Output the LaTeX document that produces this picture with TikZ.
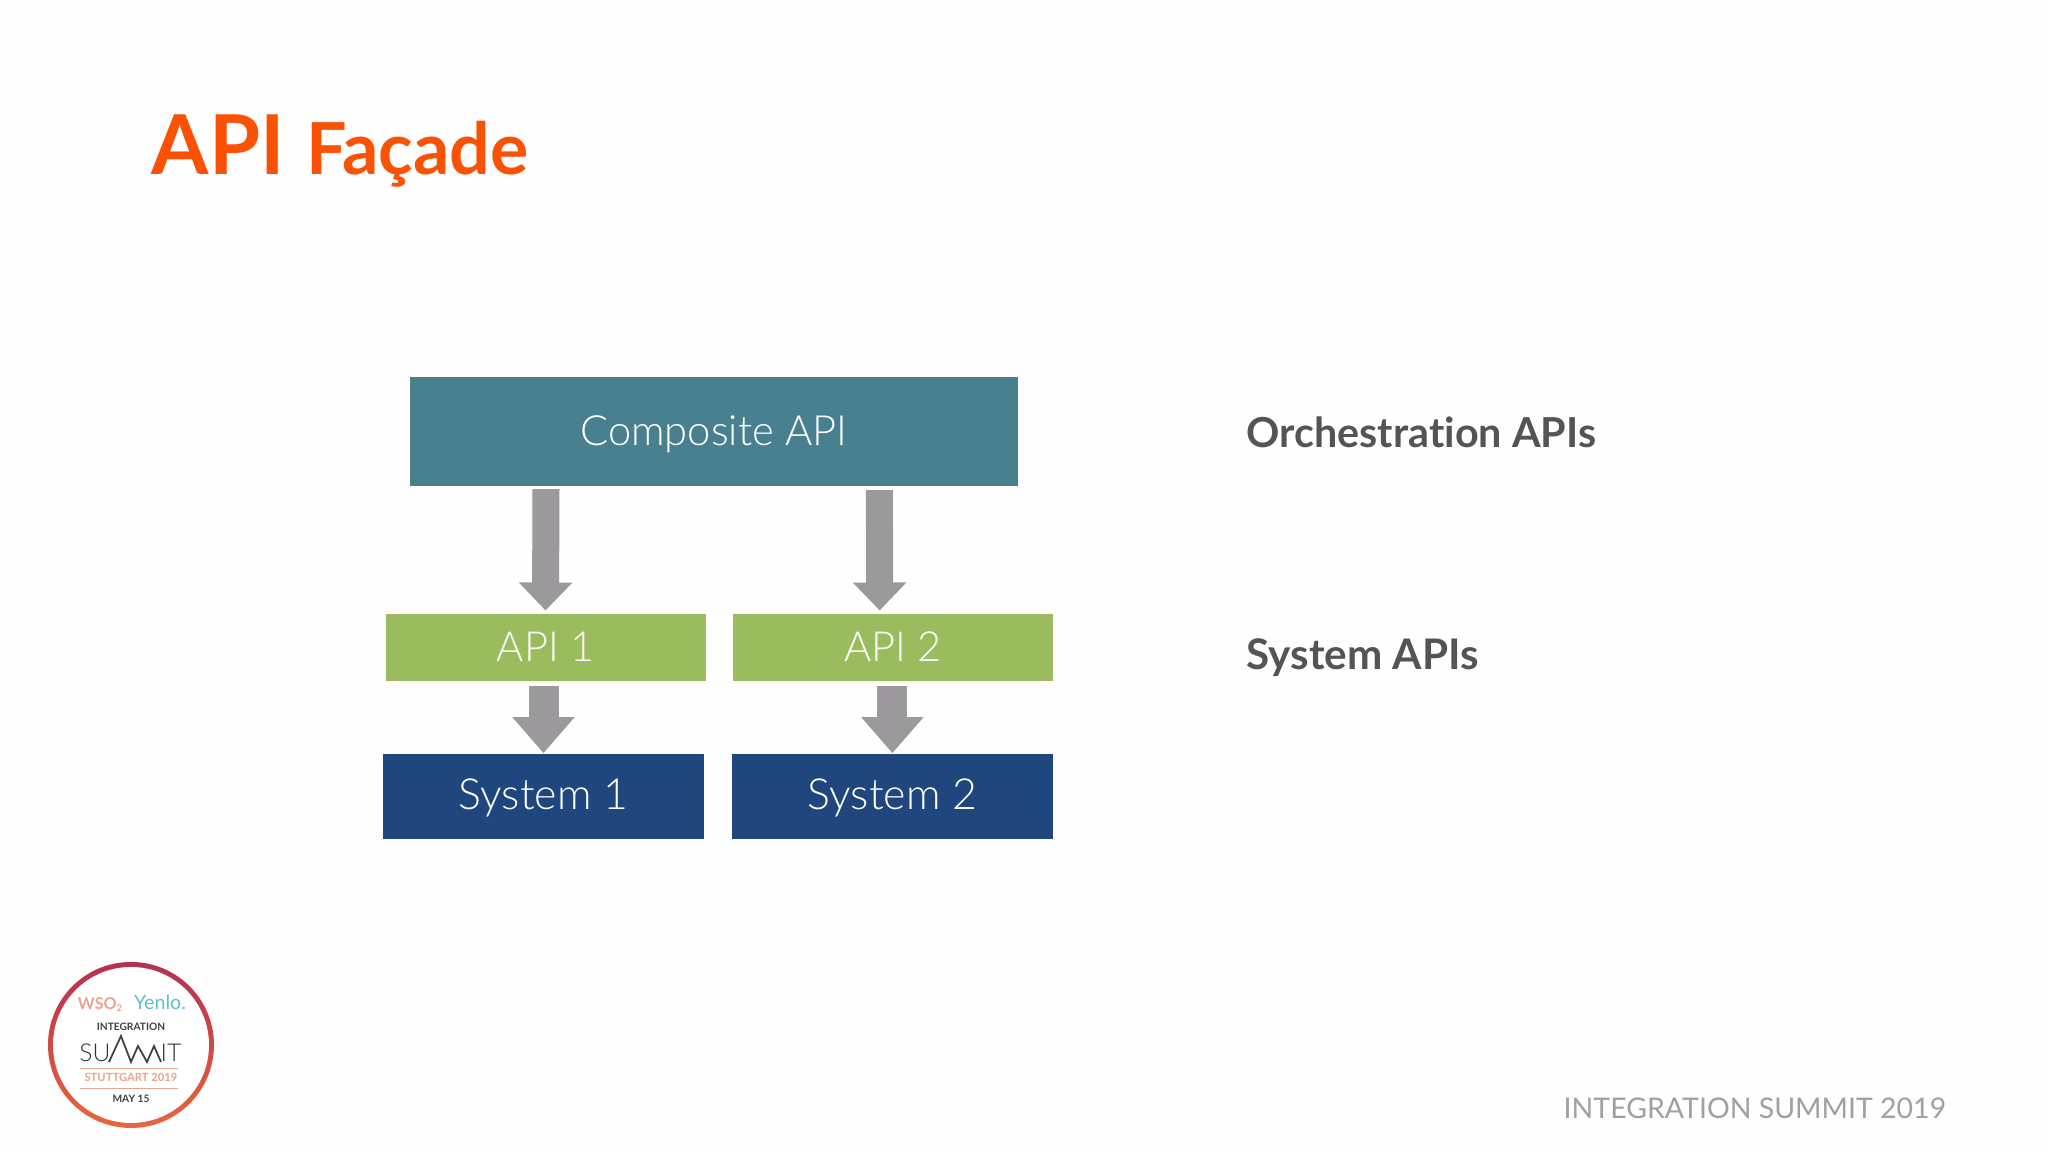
\documentclass[tikz,border=0pt]{standalone}
\usepackage{fontspec}
\setmainfont[Ligatures = NoCommon]{Lato}
\newfontfamily\lightfont{Lato Light}
\usetikzlibrary{arrows.meta}

\definecolor{TitleOrange}{HTML}{FA5205}
\definecolor{CompositeTeal}{HTML}{48808F}
\definecolor{ApiGreen}{HTML}{9BBC5C}
\definecolor{SystemBlue}{HTML}{1F477D}
\definecolor{FlowGray}{HTML}{9B999B}
\definecolor{SideGray}{HTML}{545454}
\definecolor{FootGray}{HTML}{A0A0A0}
\definecolor{BadgePeach}{HTML}{E9A48F}
\definecolor{BadgeCyan}{HTML}{62BCD0}
\definecolor{RingTop}{HTML}{B5304F}
\definecolor{RingBottom}{HTML}{E8663C}

\begin{document}
\begin{tikzpicture}[
      Box/.style = {rectangle, inner sep = 0pt, text = white, text height = 0.37cm, text depth = 0.10cm},
      Composite/.style = {Box, fill = CompositeTeal, minimum width = 6.08cm, minimum height = 1.09cm, font = \lightfont\fontsize{11.85}{14}\selectfont},
      Api/.style = {Box, fill = ApiGreen, minimum width = 3.20cm, minimum height = 0.67cm, font = \lightfont\fontsize{11.8}{14}\selectfont},
      System/.style = {Box, fill = SystemBlue, minimum width = 3.21cm, minimum height = 0.85cm, font = \lightfont\fontsize{12.2}{14}\selectfont},
      Flow/.style = {draw = FlowGray, line width = 0.27cm, -{Triangle[length = 0.28cm, width = 0.52cm]}},
      FlowLow/.style = {draw = FlowGray, line width = 0.30cm, -{Triangle[length = 0.36cm, width = 0.60cm]}},
      Side/.style = {anchor = base west, inner sep = 0pt, text = SideGray, font = \bfseries\fontsize{11.75}{14}\selectfont},
      Badge/.style = {inner sep = 0pt, anchor = base, font = \bfseries\fontsize{2.9}{4}\selectfont}
    ]
    \useasboundingbox (0,0) rectangle (20.48,11.52);
    \fill[white!99.5!black] (0,0) rectangle (20.48,11.52);

    % title
    \node at (1.51,9.77) [anchor = base west, inner sep = 0pt, text = TitleOrange, font = \bfseries\fontsize{23.5}{26}\selectfont](Api){API};
    \node at (3.06,9.77) [anchor = base west, inner sep = 0pt, text = TitleOrange, font = \bfseries\fontsize{20.4}{26}\selectfont](Facade){Façade};

    % boxes
    \node at (7.14,7.20) [Composite](CompositeApi){Composite API};
    \node at (5.455,5.043) [Api](Api1){API 1};
    \node at (8.93,5.043) [Api](Api2){API 2};
    \node at (5.435,3.556) [System](System1){System 1};
    \node at (8.924,3.556) [System](System2){System 2};

    \path [Flow] ([xshift = -1.68cm, yshift = -0.02cm]CompositeApi.south) -- ([yshift = 0.03cm]Api1.north);
    \path [Flow] ([xshift = 1.654cm, yshift = -0.03cm]CompositeApi.south) -- ([xshift = -0.133cm, yshift = 0.03cm]Api2.north);
    \path [FlowLow] ([yshift = -0.04cm]System1.north |- Api1.south) -- (System1.north);
    \path [FlowLow] ([yshift = -0.04cm]System2.north |- Api2.south) -- (System2.north);

    % right hand labels
    \node at (12.46,7.043) [Side](Orchestration){Orchestration APIs};
    \node at (12.46,4.823) [Side, font = \bfseries\fontsize{12}{14}\selectfont](SystemApis){System APIs};
    \node at (15.63,0.335) [anchor = base west, inner sep = 0pt, text = FootGray, font = \fontsize{8.1}{10}\selectfont](Footer){INTEGRATION SUMMIT 2019};

    % badge
    \shade[top color = RingTop, bottom color = RingBottom] (1.31,1.07) circle (0.83);
    \fill[white] (1.31,1.07) circle (0.78);
    \node at (1.00,1.42) [Badge, text = BadgePeach, font = \bfseries\fontsize{4.6}{6}\selectfont](Wso){WSO\raisebox{-0.5pt}{\fontsize{2.6}{3}\selectfont 2}};
    \node at (1.60,1.42) [Badge, text = BadgeCyan, font = \fontsize{5.6}{6}\selectfont](Yenlo){Yenlo.};
    \node at (1.31,1.21) [Badge, text = black!75](Integration){INTEGRATION};
    \node at (0.95,0.90) [Badge, text = black!80, font = \lightfont\fontsize{7}{8}\selectfont](Su){SU};
    \node at (1.71,0.90) [Badge, text = black!80, font = \lightfont\fontsize{7}{8}\selectfont](It){IT};
    \draw[black!75, line width = 0.5pt] (1.09,0.90) -- (1.21,1.16) -- (1.31,0.90) -- (1.38,1.06) -- (1.47,0.90) -- (1.54,1.06) -- (1.61,0.90);
    \draw[BadgePeach, line width = 0.2pt] (0.80,0.84) -- (1.78,0.84);
    \node at (1.31,0.70) [Badge, text = BadgePeach, font = \bfseries\fontsize{3.2}{4}\selectfont](Stuttgart){STUTTGART 2019};
    \draw[BadgePeach, line width = 0.2pt] (0.80,0.64) -- (1.78,0.64);
    \node at (1.31,0.49) [Badge, text = black!75](May){MAY 15};
  \end{tikzpicture}
\end{document}
